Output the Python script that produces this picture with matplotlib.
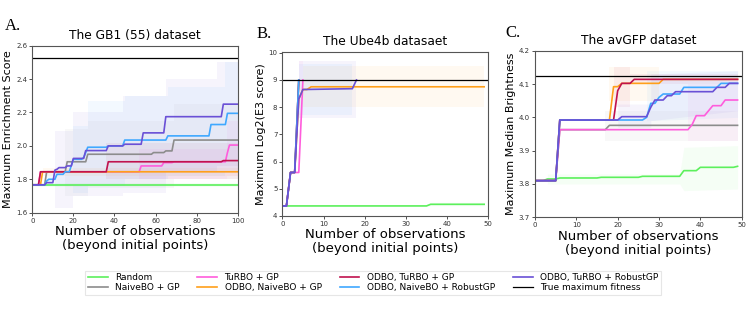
import matplotlib
matplotlib.use("Agg")
import matplotlib.pyplot as plt

# ---------------- series styling ----------------
labels = ["Random", "NaiveBO + GP", "TuRBO + GP", "ODBO, NaiveBO + GP",
          "ODBO, TuRBO + GP", "ODBO, NaiveBO + RobustGP", "ODBO, TuRBO + RobustGP"]
colors = ["#5cf05c", "#8c8c8c", "#ff5cdc", "#ff9f1a", "#c0124e", "#3fa8ff", "#6a50d6"]

# ---------------- A: GB1 (55) ----------------
gb1_true_max = 2.528
gb1_x = [
    [0, 100],
    [0, 6, 7, 16, 17, 26, 27, 58, 59, 64, 65, 68, 69, 100],
    [0, 3, 4, 52, 53, 63, 64, 68, 69, 94, 95, 96, 100],
    [0, 4, 5, 100],
    [0, 3, 4, 36, 37, 92, 93, 100],
    [0, 6, 7, 8, 11, 12, 15, 16, 18, 20, 24, 25, 26, 27, 36, 37, 44, 45, 65, 66, 86, 87, 94, 95, 100],
    [0, 6, 7, 10, 11, 12, 13, 16, 17, 19, 20, 25, 26, 36, 37, 44, 45, 53, 54, 64, 65, 92, 93, 100],
]
gb1_y = [
    [1.767, 1.767],
    [1.767, 1.767, 1.845, 1.845, 1.905, 1.905, 1.95, 1.95, 1.96, 1.96, 1.97, 1.97, 2.035, 2.035],
    [1.767, 1.767, 1.845, 1.845, 1.88, 1.88, 1.90, 1.90, 1.905, 1.905, 1.96, 2.005, 2.005],
    [1.767, 1.767, 1.845, 1.845],
    [1.767, 1.767, 1.845, 1.845, 1.905, 1.905, 1.912, 1.912],
    [1.767, 1.767, 1.79, 1.80, 1.80, 1.83, 1.83, 1.845, 1.845, 1.92, 1.92, 1.93, 1.96, 1.992, 1.992,
     2.0, 2.0, 2.035, 2.035, 2.06, 2.06, 2.128, 2.128, 2.195, 2.195],
    [1.767, 1.767, 1.78, 1.78, 1.855, 1.86, 1.87, 1.87, 1.88, 1.88, 1.925, 1.925, 1.972, 1.972,
     2.0, 2.0, 2.01, 2.01, 2.078, 2.078, 2.175, 2.175, 2.25, 2.25],
]
gb1_band_x = [
    [0, 100], [16, 27, 27, 69, 69, 100], [52, 95, 95, 100], [5, 100],
    [36, 100], [6, 20, 20, 27, 27, 45, 45, 66, 66, 94, 94, 100],
    [11, 20, 20, 44, 44, 65, 65, 90, 90, 100],
]
gb1_band_lo = [
    [1.755, 1.755], [1.70, 1.70, 1.75, 1.75, 1.80, 1.80], [1.80, 1.80, 1.82, 1.82], [1.82, 1.82],
    [1.80, 1.80], [1.76, 1.76, 1.72, 1.72, 1.76, 1.76, 1.80, 1.80, 1.82, 1.82, 1.85, 1.85],
    [1.63, 1.63, 1.70, 1.70, 1.72, 1.72, 1.85, 1.85, 1.88, 1.88],
]
gb1_band_hi = [
    [1.78, 1.78], [2.10, 2.10, 2.15, 2.15, 2.25, 2.25], [1.98, 1.98, 2.15, 2.15], [1.87, 1.87],
    [2.02, 2.02], [1.85, 1.85, 2.12, 2.12, 2.27, 2.27, 2.30, 2.30, 2.35, 2.35, 2.50, 2.50],
    [2.09, 2.09, 2.20, 2.20, 2.30, 2.30, 2.40, 2.40, 2.50, 2.50],
]

# ---------------- B: Ube4b ----------------
ube_true_max = 9.0
ube_x = [
    [0, 35, 36, 49],
    [0, 1, 2, 3, 4],
    [0, 1, 2, 4, 5],
    [0, 1, 2, 3, 4, 5, 6, 7, 49],
    [0, 1, 2, 3, 4],
    [0, 1, 2, 3, 4],
    [0, 1, 2, 3, 4, 5, 17, 18],
]
ube_y = [
    [4.37, 4.37, 4.43, 4.43],
    [4.37, 4.37, 5.6, 5.6, 9.0],
    [4.37, 4.37, 5.6, 5.6, 9.0],
    [4.37, 4.37, 5.6, 5.6, 8.3, 8.65, 8.65, 8.75, 8.75],
    [4.37, 4.37, 5.6, 5.6, 9.0],
    [4.37, 4.37, 5.6, 5.6, 9.0],
    [4.37, 4.37, 5.6, 5.6, 8.3, 8.65, 8.68, 9.0],
]
ube_band_x = [[0, 35, 36, 49], [], [4, 5], [5, 49], [], [4, 17], [4, 18]]
ube_band_lo = [[4.35, 4.35, 4.38, 4.38], [], [7.6, 7.6], [8.0, 8.0], [], [7.7, 7.7], [7.62, 7.62]]
ube_band_hi = [[4.40, 4.40, 4.50, 4.50], [], [9.7, 9.7], [9.5, 9.5], [], [9.6, 9.6], [9.68, 9.68]]

# ---------------- C: avGFP ----------------
gfp_true_max = 4.124
gfp_x = [
    [0, 2, 3, 5, 6, 15, 16, 25, 26, 35, 36, 39, 40, 48, 49],
    [0, 5, 6, 17, 18, 49],
    [0, 5, 6, 37, 38, 39, 41, 42, 43, 45, 46, 49],
    [0, 5, 6, 18, 19, 20, 21, 30, 31, 49],
    [0, 5, 6, 19, 20, 21, 23, 24, 49],
    [0, 5, 6, 26, 27, 28, 29, 30, 31, 35, 36, 44, 45, 49],
    [0, 5, 6, 20, 21, 27, 28, 29, 31, 32, 33, 34, 43, 44, 46, 47, 49],
]
gfp_y = [
    [3.81, 3.81, 3.815, 3.815, 3.818, 3.818, 3.82, 3.82, 3.823, 3.823, 3.84, 3.84, 3.85, 3.85, 3.853],
    [3.81, 3.81, 3.963, 3.963, 3.976, 3.976],
    [3.81, 3.81, 3.963, 3.963, 3.978, 4.005, 4.005, 4.02, 4.035, 4.035, 4.052, 4.052],
    [3.81, 3.81, 3.992, 3.992, 4.092, 4.092, 4.102, 4.102, 4.114, 4.114],
    [3.81, 3.81, 3.992, 3.992, 4.08, 4.102, 4.102, 4.114, 4.114],
    [3.81, 3.81, 3.992, 3.992, 4.0, 4.042, 4.042, 4.06, 4.07, 4.07, 4.09, 4.09, 4.102, 4.102],
    [3.81, 3.81, 3.992, 3.992, 4.002, 4.002, 4.03, 4.052, 4.052, 4.065, 4.065, 4.077, 4.077,
     4.09, 4.09, 4.102, 4.102],
]
gfp_band_x = [
    [3, 35, 36, 49], [17, 49], [37, 49], [18, 30], [19, 23, 23, 49], [27, 49], [20, 28, 28, 49],
]
gfp_band_lo = [
    [3.80, 3.80, 3.78, 3.785], [3.93, 3.93], [3.93, 3.93], [4.05, 4.05],
    [4.03, 4.03, 4.10, 4.10], [3.99, 4.00], [3.97, 3.97, 3.99, 4.02],
]
gfp_band_hi = [
    [3.83, 3.83, 3.91, 3.915], [4.02, 4.02], [4.10, 4.10], [4.15, 4.15],
    [4.15, 4.15, 4.13, 4.13], [4.14, 4.14], [4.04, 4.04, 4.13, 4.14],
]

W, H = 748, 315
fig = plt.figure(figsize=(W / 100, H / 100), dpi=100)


def add_panel(rect, xs, ys, bx, blo, bhi, true_max, title, ylabel, letter, letter_xy,
              xlim, ylim, xticks, yticks, yfmt):
    l, t, r, b = rect
    ax = fig.add_axes([l / W, 1 - b / H, (r - l) / W, (b - t) / H])
    for i in range(len(labels)):
        if bx[i]:
            ax.fill_between(bx[i], blo[i], bhi[i], color=colors[i], alpha=0.06, lw=0)
    for i in range(len(labels)):
        ax.plot(xs[i], ys[i], color=colors[i], lw=1.2, label=labels[i])
    ax.axhline(true_max, color="black", lw=0.9, label="True maximum fitness")
    ax.set_xlim(*xlim)
    ax.set_ylim(*ylim)
    ax.set_xticks(xticks)
    ax.set_yticks(yticks)
    ax.set_yticklabels([yfmt.format(v) for v in yticks])
    ax.tick_params(labelsize=5, length=2, width=0.6, pad=1.5, colors="#333333")
    for s in ax.spines.values():
        s.set_color("#555555")
        s.set_linewidth(0.8)
    ax.set_title(title, fontsize=8.8, pad=5)
    ax.set_ylabel(ylabel, fontsize=8, labelpad=2)
    ax.set_xlabel("Number of observations\n(beyond initial points)", fontsize=9.5,
                  labelpad=1, linespacing=1.1)
    fig.text(letter_xy[0] / W, 1 - letter_xy[1] / H, letter, fontsize=12,
             family="Liberation Serif", ha="left", va="center")
    return ax


axA = add_panel((32.3, 45.7, 237.7, 212.7), gb1_x, gb1_y, gb1_band_x, gb1_band_lo, gb1_band_hi,
                gb1_true_max, "The GB1 (55) dataset", "Maximum Enrichment Score", "A.", (5, 26),
                (0, 100), (1.6, 2.6), range(0, 101, 20), [1.6, 1.8, 2.0, 2.2, 2.4, 2.6], "{:.1f}")
add_panel((282.3, 51.7, 488.3, 216), ube_x, ube_y, ube_band_x, ube_band_lo, ube_band_hi,
          ube_true_max, "The Ube4b datasaet", "Maximum Log2(E3 score)", "B.", (257, 34),
          (0, 50), (4, 10.04), range(0, 51, 10), [4, 5, 6, 7, 8, 9, 10], "{:d}")
add_panel((535, 50.7, 741.7, 217.3), gfp_x, gfp_y, gfp_band_x, gfp_band_lo, gfp_band_hi,
          gfp_true_max, "The avGFP dataset", "Maximum Median Brightness", "C.", (505, 33),
          (0, 50), (3.7, 4.2), range(0, 51, 10), [3.7, 3.8, 3.9, 4.0, 4.1, 4.2], "{:.1f}")

handles, labs = axA.get_legend_handles_labels()
leg = fig.legend(handles, labs, loc="upper center", bbox_to_anchor=(373 / W, 1 - 266 / H),
                 ncol=4, fontsize=6.5, frameon=True, handlelength=2.2, columnspacing=2.0,
                 borderpad=0.3, labelspacing=0.1, fancybox=False)
leg.get_frame().set_edgecolor("#e0e0e0")
leg.get_frame().set_linewidth(0.8)

fig.savefig("out.png", dpi=100)
